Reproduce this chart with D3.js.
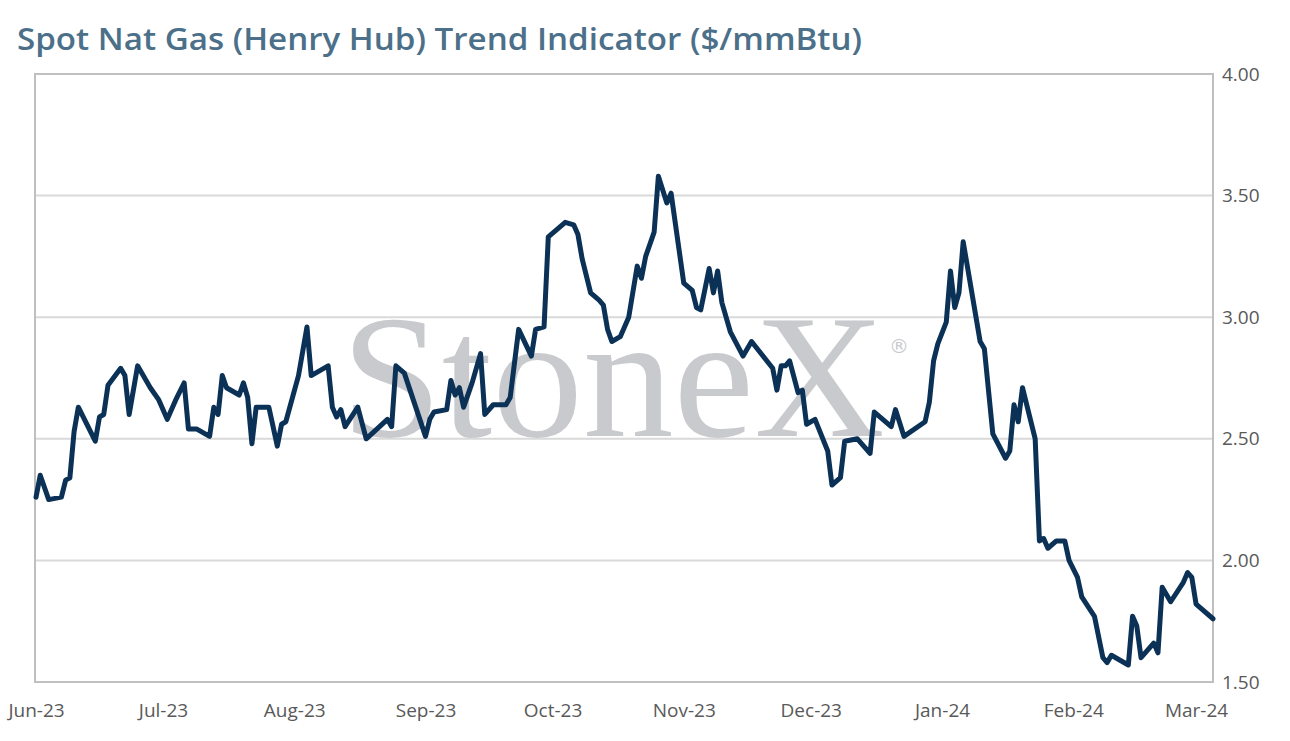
<!DOCTYPE html>
<html>
<head>
<meta charset="utf-8">
<script src="https://cdn.jsdelivr.net/npm/d3@7"></script>
<style>
  body { margin: 0; background: #fff; }
  svg { display: block; }
</style>
</head>
<body>
<script>
// Henry Hub spot, $/mmBtu
const dates = [
  "2023-06-01","2023-06-02","2023-06-04","2023-06-07","2023-06-08","2023-06-09","2023-06-10","2023-06-11",
  "2023-06-15","2023-06-16","2023-06-17","2023-06-18","2023-06-21","2023-06-22","2023-06-23","2023-06-25",
  "2023-06-28","2023-06-30","2023-07-02","2023-07-04","2023-07-06","2023-07-07","2023-07-09","2023-07-12",
  "2023-07-13","2023-07-14","2023-07-15","2023-07-16","2023-07-19","2023-07-20","2023-07-21","2023-07-22",
  "2023-07-23","2023-07-26","2023-07-28","2023-07-29","2023-07-30","2023-08-02","2023-08-04","2023-08-05",
  "2023-08-09","2023-08-10","2023-08-11","2023-08-12","2023-08-13","2023-08-16","2023-08-18","2023-08-23",
  "2023-08-24","2023-08-25","2023-08-27","2023-09-01","2023-09-02","2023-09-03","2023-09-06","2023-09-07",
  "2023-09-08","2023-09-09","2023-09-10","2023-09-12","2023-09-14","2023-09-15","2023-09-17","2023-09-20",
  "2023-09-21","2023-09-23","2023-09-26","2023-09-27","2023-09-29","2023-09-30","2023-10-04","2023-10-06",
  "2023-10-07","2023-10-08","2023-10-10","2023-10-12","2023-10-13","2023-10-14","2023-10-15","2023-10-17",
  "2023-10-19","2023-10-21","2023-10-22","2023-10-23","2023-10-25","2023-10-26","2023-10-28","2023-10-29",
  "2023-11-01","2023-11-03","2023-11-04","2023-11-05","2023-11-07","2023-11-08","2023-11-09","2023-11-10",
  "2023-11-12","2023-11-15","2023-11-17","2023-11-22","2023-11-23","2023-11-24","2023-11-25","2023-11-26",
  "2023-11-28","2023-11-29","2023-11-30","2023-12-02","2023-12-05","2023-12-06","2023-12-08","2023-12-09",
  "2023-12-12","2023-12-15","2023-12-16","2023-12-20","2023-12-21","2023-12-23","2023-12-28","2023-12-29",
  "2023-12-30","2023-12-31","2024-01-02","2024-01-03","2024-01-04","2024-01-05","2024-01-06","2024-01-10",
  "2024-01-11","2024-01-13","2024-01-16","2024-01-17","2024-01-18","2024-01-19","2024-01-20","2024-01-23",
  "2024-01-24","2024-01-25","2024-01-26","2024-01-28","2024-01-30","2024-01-31","2024-02-02","2024-02-03",
  "2024-02-06","2024-02-08","2024-02-09","2024-02-10","2024-02-14","2024-02-15","2024-02-16","2024-02-17",
  "2024-02-20","2024-02-21","2024-02-22","2024-02-24","2024-02-27","2024-02-28","2024-02-29","2024-03-01",
  "2024-03-05"
];
const prices = [
  2.26,2.35,2.25,2.26,2.33,2.34,2.53,2.63,
  2.49,2.59,2.60,2.72,2.79,2.76,2.60,2.80,
  2.71,2.66,2.58,2.66,2.73,2.54,2.54,2.51,
  2.63,2.60,2.76,2.71,2.68,2.73,2.67,2.48,
  2.63,2.63,2.47,2.56,2.57,2.76,2.96,2.76,
  2.80,2.63,2.59,2.62,2.55,2.63,2.50,2.58,
  2.55,2.80,2.77,2.51,2.58,2.61,2.62,2.74,
  2.68,2.71,2.63,2.73,2.85,2.60,2.64,2.64,
  2.67,2.95,2.84,2.95,2.96,3.33,3.39,3.38,
  3.34,3.24,3.10,3.07,3.05,2.95,2.90,2.92,
  3.00,3.21,3.16,3.25,3.35,3.58,3.47,3.51,
  3.14,3.11,3.04,3.03,3.20,3.10,3.19,3.06,
  2.94,2.84,2.90,2.79,2.70,2.80,2.80,2.82,
  2.69,2.70,2.56,2.58,2.45,2.31,2.34,2.49,
  2.50,2.44,2.61,2.55,2.62,2.51,2.57,2.65,
  2.82,2.89,2.98,3.19,3.04,3.10,3.31,2.90,
  2.87,2.52,2.42,2.45,2.64,2.57,2.71,2.50,
  2.08,2.09,2.05,2.08,2.08,2.00,1.93,1.85,
  1.77,1.60,1.58,1.61,1.57,1.77,1.73,1.60,
  1.66,1.62,1.89,1.83,1.91,1.95,1.93,1.82,
  1.76
];
const yTicks = [1.5, 2.0, 2.5, 3.0, 3.5, 4.0];
const monthTicks = ["2023-06-01","2023-07-01","2023-08-01","2023-09-01","2023-10-01",
  "2023-11-01","2023-12-01","2024-01-01","2024-02-01","2024-03-01"];

const W = 1290, H = 741;
const plotL = 35, plotR = 1213, plotT = 74, plotB = 682;

const parse = d3.timeParse("%Y-%m-%d");
const data = dates.map((d, i) => ({ date: parse(d), value: prices[i] }));

const svg = d3.select("body").append("svg")
  .attr("width", W)
  .attr("height", H);

const x = d3.scaleTime()
  .domain([parse("2023-06-01"), parse("2024-03-05")])
  .range([plotL + 1, plotR]);

const y = d3.scaleLinear()
  .domain([1.5, 4.0])
  .range([plotB, plotT]);

svg.append("text")
  .attr("x", 17)
  .attr("y", 50)
  .attr("textLength", 845)
  .attr("lengthAdjust", "spacingAndGlyphs")
  .style("font-family", "Open Sans")
  .style("font-weight", "600")
  .style("font-size", "30px")
  .style("fill", "#4c7089")
  .text("Spot Nat Gas (Henry Hub) Trend Indicator ($/mmBtu)");

// gridlines
svg.append("g")
  .selectAll("line")
  .data(yTicks.filter(t => t > 1.5 && t < 4.0))
  .enter()
  .append("line")
  .attr("x1", plotL)
  .attr("x2", plotR)
  .attr("y1", d => y(d))
  .attr("y2", d => y(d))
  .style("stroke", "#d9d9d9")
  .style("stroke-width", 2);

// watermark
const wm = svg.append("g").style("fill", "#c9cacd");
wm.append("text")
  .attr("x", 341)
  .attr("y", 436)
  .attr("textLength", 544)
  .attr("lengthAdjust", "spacingAndGlyphs")
  .style("font-family", "Liberation Serif")
  .style("font-size", "176px")
  .text("StoneX");
wm.append("text")
  .attr("x", 889)
  .attr("y", 353)
  .style("font-family", "DejaVu Sans")
  .style("font-size", "20px")
  .text("®");

// frame
svg.append("rect")
  .attr("x", plotL)
  .attr("y", plotT)
  .attr("width", plotR - plotL)
  .attr("height", plotB - plotT)
  .style("fill", "none")
  .style("stroke", "#bfbfbf")
  .style("stroke-width", 2);

// right axis labels
svg.append("g")
  .attr("transform", `translate(${plotR},0)`)
  .call(d3.axisRight(y).tickValues(yTicks).tickSize(0).tickPadding(9).tickFormat(d3.format(".2f")))
  .call(g => g.select(".domain").remove())
  .selectAll("text")
  .style("font-family", "Open Sans")
  .style("font-size", "19px")
  .style("fill", "#595959");

// bottom axis labels
svg.append("g")
  .attr("transform", `translate(0,${plotB})`)
  .call(d3.axisBottom(x).tickValues(monthTicks.map(parse)).tickSize(0).tickPadding(22)
    .tickFormat(d3.timeFormat("%b-%y")))
  .call(g => g.select(".domain").remove())
  .selectAll("text")
  .style("font-family", "Open Sans")
  .style("font-size", "19px")
  .style("fill", "#595959");

const line = d3.line()
  .x(d => x(d.date))
  .y(d => y(d.value));

svg.append("path")
  .datum(data)
  .attr("d", line)
  .style("fill", "none")
  .style("stroke", "#0b3256")
  .style("stroke-width", 5)
  .style("stroke-linejoin", "round")
  .style("stroke-linecap", "round");
</script>
</body>
</html>
